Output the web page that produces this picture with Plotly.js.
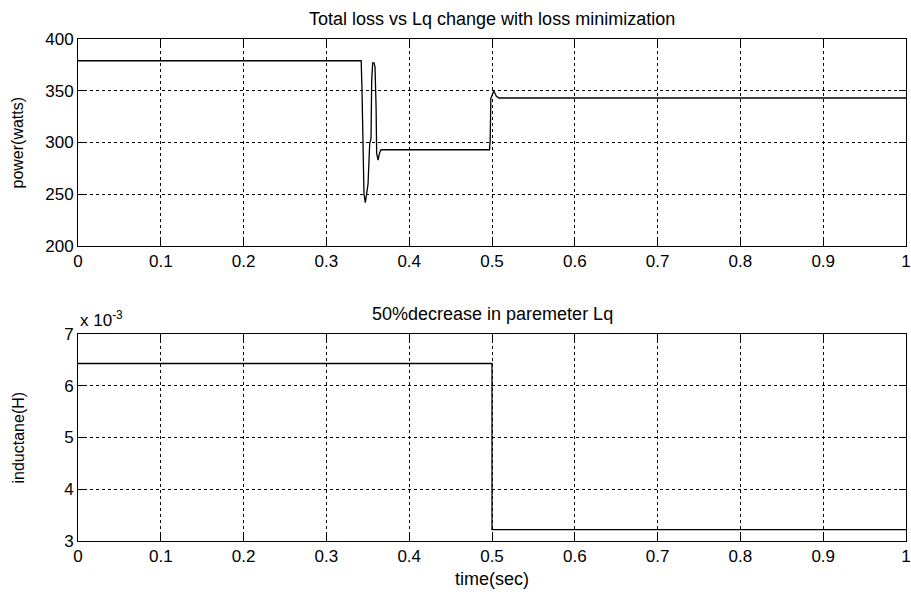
<!DOCTYPE html>
<html>
<head>
<meta charset="utf-8">
<script src="https://cdn.plot.ly/plotly-3.0.1.min.js"></script>
<style>html,body{margin:0;padding:0;background:#fff;}#chart{width:911px;height:595px;}</style>
</head>
<body>
<div id="chart"></div>
<script>
// Top panel: total loss (W) vs time (s)
const timeLoss = [0, 0.342, 0.3430, 0.3438, 0.3446, 0.3454, 0.3470, 0.3486, 0.3503, 0.3523, 0.3539, 0.3547, 0.3559, 0.3575, 0.3587, 0.3600, 0.3607, 0.3624, 0.3640, 0.3660, 0.4970, 0.4978, 0.4986, 0.5002, 0.5022, 0.5051, 0.5083, 1];
const totalLoss = [379, 379, 350.7, 299, 260, 250, 242, 251, 260, 299, 304, 360, 377, 377, 373, 334.5, 289.5, 283, 289.5, 293, 293, 302, 342.6, 345.8, 349.7, 344.9, 343, 343];
// Bottom panel: Lq inductance (H) vs time (s)
const timeLq = [0, 0.5, 0.5, 1];
const inductanceLq = [6.43e-3, 6.43e-3, 3.22e-3, 3.22e-3];
// Tick labels
const xTicks = [0, 0.1, 0.2, 0.3, 0.4, 0.5, 0.6, 0.7, 0.8, 0.9, 1];
const xTickText = ['0', '0.1', '0.2', '0.3', '0.4', '0.5', '0.6', '0.7', '0.8', '0.9', '1'];
const lossTicks = [200, 250, 300, 350, 400];
const lqTicks = [0.003, 0.004, 0.005, 0.006, 0.007];
const lqTickText = ['3', '4', '5', '6', '7'];

const FONT = 'Liberation Sans, Arial, sans-serif';

const traces = [
  {x: timeLoss, y: totalLoss, type: 'scatter', mode: 'lines', line: {color: '#000', width: 1.3}, xaxis: 'x', yaxis: 'y', hoverinfo: 'skip'},
  {x: timeLq, y: inductanceLq, type: 'scatter', mode: 'lines', line: {color: '#000', width: 1.3}, xaxis: 'x2', yaxis: 'y2', hoverinfo: 'skip'}
];

const axisCommon = {
  showline: true, linecolor: '#000', linewidth: 1, mirror: 'ticks',
  ticks: 'inside', ticklen: 7, tickcolor: '#000', tickwidth: 1,
  showgrid: true, gridcolor: '#000', gridwidth: 1, griddash: '3px,3px',
  zeroline: false, tickfont: {family: FONT, size: 17, color: '#000'}
};

const layout = {
  width: 911, height: 595,
  margin: {l: 78, r: 5, t: 39, b: 54},
  paper_bgcolor: '#fff', plot_bgcolor: '#fff',
  showlegend: false,
  font: {family: FONT, size: 17, color: '#000'},
  xaxis: Object.assign({}, axisCommon, {anchor: 'y', range: [0, 1], tickvals: xTicks, ticktext: xTickText, domain: [0, 1], ticklabelstandoff: 0}),
  yaxis: Object.assign({}, axisCommon, {anchor: 'x', range: [200, 400], tickvals: lossTicks, domain: [0.5876, 1]}),
  xaxis2: Object.assign({}, axisCommon, {anchor: 'y2', range: [0, 1], tickvals: xTicks, ticktext: xTickText, domain: [0, 1], ticklabelstandoff: 0}),
  yaxis2: Object.assign({}, axisCommon, {anchor: 'x2', range: [0.003, 0.007], tickvals: lqTicks, ticktext: lqTickText, domain: [0, 0.4124]}),
  annotations: [
    {text: 'Total loss vs Lq change with loss minimization', xref: 'paper', yref: 'paper', x: 0.5, y: 1, yshift: 8, xanchor: 'center', yanchor: 'bottom', showarrow: false, font: {family: FONT, size: 18, color: '#000'}},
    {text: '50%decrease in paremeter Lq', xref: 'paper', yref: 'paper', x: 0.5, y: 0.4124, yshift: 8, xanchor: 'center', yanchor: 'bottom', showarrow: false, font: {family: FONT, size: 18, color: '#000'}},
    {text: 'x 10<sup>-3</sup>', xref: 'paper', yref: 'paper', x: 0, xshift: 0, y: 0.4124, yshift: 2, xanchor: 'left', yanchor: 'bottom', showarrow: false, font: {family: FONT, size: 17, color: '#000'}},
    {text: 'power(watts)', xref: 'paper', yref: 'paper', x: 0, xshift: -60, y: 0.7938, xanchor: 'center', yanchor: 'middle', textangle: -90, showarrow: false, font: {family: FONT, size: 16, color: '#000'}},
    {text: 'inductane(H)', xref: 'paper', yref: 'paper', x: 0, xshift: -60, y: 0.2062, xanchor: 'center', yanchor: 'middle', textangle: -90, showarrow: false, font: {family: FONT, size: 16, color: '#000'}},
    {text: 'time(sec)', xref: 'paper', yref: 'paper', x: 0.5, y: 0, yshift: -26, xanchor: 'center', yanchor: 'top', showarrow: false, font: {family: FONT, size: 18, color: '#000'}}
  ]
};

Plotly.newPlot('chart', traces, layout, {staticPlot: true, displayModeBar: false});
</script>
</body>
</html>
